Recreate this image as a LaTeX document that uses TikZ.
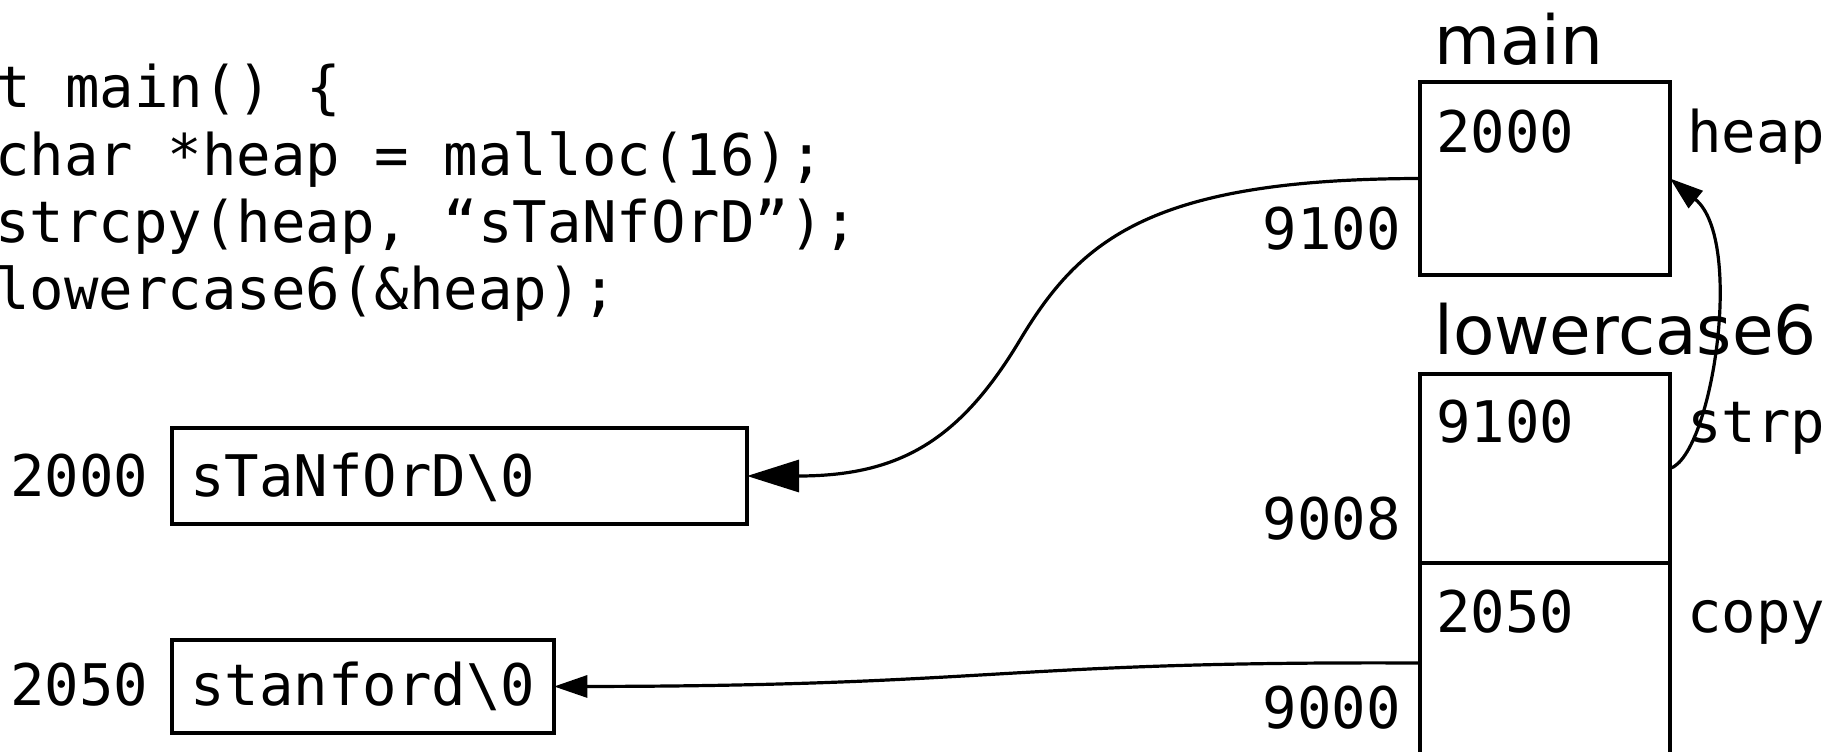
\documentclass[tikz,border=0pt]{standalone}
\usepackage{fontspec}
\setmainfont{DejaVu Sans}
\setmonofont{DejaVu Sans Mono}
\usetikzlibrary{arrows.meta}
\begin{document}
\begin{tikzpicture}[x=0.75pt,y=-0.75pt,
  mono/.style={font=\fontsize{43}{50}\selectfont\ttfamily, anchor=base west, inner sep=0pt},
  monor/.style={mono, anchor=base east},
  title/.style={font=\fontsize{50.8}{60}\selectfont, anchor=base west, inner sep=0pt},
  cell/.style={draw, line width=2.5pt, inner sep=0pt, outer sep=0pt, minimum width=187.5pt},
  strbox/.style={draw, line width=2.5pt, inner sep=0pt, outer sep=0pt},
  link/.style={line width=2.4pt},
  bighead/.style={link, -{Triangle[length=39pt,width=24pt]}},
  smallhead/.style={link, -{Triangle[length=25pt,width=16.5pt]}}
]
\useasboundingbox[clip] (0,0) rectangle (1848,752);

% code
\node[mono] (c1) at (-73,108) {int main() \{};
\node[mono] (c2) at (-5,176) {char *heap = malloc(16);};
\node[mono] (c3) at (-5,243) {strcpy(heap, “sTaNfOrD”);};
\node[mono] (c4) at (-5,309) {lowercase6(\&heap);};

% heap strings
\node[strbox, minimum width=431.25pt, minimum height=72pt] (s1) at (459.5,476) {};
\node[strbox, minimum width=286.5pt, minimum height=69.75pt] (s2) at (363,686.5) {};
\node[mono] (a1) at (10,496) {2000};
\node[mono] (a2) at (10,705) {2050};
\node[mono] (t1) at (190,496) {sTaNfOrD\textbackslash0};
\node[mono] (t2) at (190,705) {stanford\textbackslash0};

% main frame
\node[title] (mainlbl) at (1434,65) {main};
\node[cell, minimum height=144.75pt] (main) at (1545,178.5) {};
\node[mono] (mv) at (1436,153) {2000};
\node[mono] (mn) at (1687,153) {heap};
\node[monor] (ma) at (1401,250) {9100};

% lowercase6 frame
\node[title] (lclbl) at (1434,354) {lowercase6};
\node[cell, minimum height=141.75pt] (lstrp) at (1545,468.5) {};
\node[cell, minimum height=150pt] (lcopy) at (1545,663) {};
\node[mono] (sv) at (1436,442) {9100};
\node[mono] (sn) at (1687,442) {strp};
\node[monor] (sa) at (1401,539) {9008};
\node[mono] (cv) at (1436,632) {2050};
\node[mono] (cn) at (1687,632) {copy};
\node[monor] (ca) at (1401,728) {9000};

% pointers
\draw[bighead] (main.west) .. controls (1150,179) and (1080,240) .. (1020,340)
   .. controls (960,440) and (900,476) .. (s1.east);
\draw[smallhead] (lcopy.west) .. controls (1000,661) and (1000,686) .. (s2.east);
\draw[smallhead] (lstrp.east) .. controls (1712,455) and (1745,240) .. (main.east);
\end{tikzpicture}
\end{document}
